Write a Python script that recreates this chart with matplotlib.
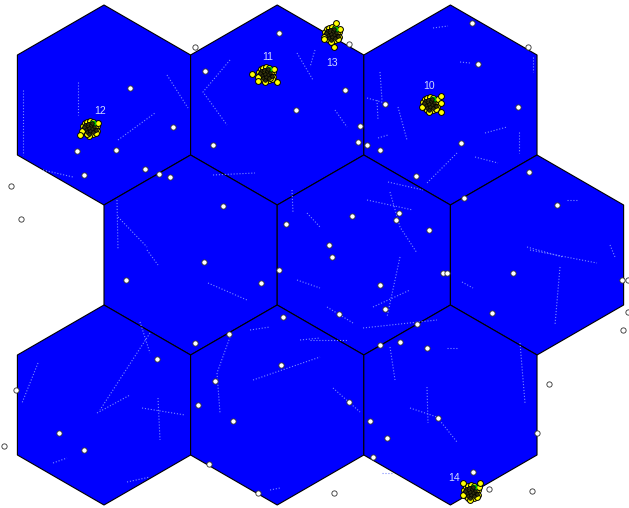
import numpy as np
import matplotlib
matplotlib.use("Agg")
import matplotlib.pyplot as plt
from matplotlib.patches import RegularPolygon

# 小区布局 (3 行 x 3 列, 尖顶六边形)
R = 100.0
hex_rows = [0, 0, 0, 1, 1, 1, 2, 2, 2]
hex_cols = [0, 1, 2, 0, 1, 2, 0, 1, 2]
origin_x, origin_y = 104.0, 105.0

# 普通用户位置 (白点)
user_x = [279, 195, 205, 130, 296, 173, 213, 77, 116, 145, 159, 170, 84, 11, 21, 223, 286,
          349, 472, 528, 478, 345, 385, 518, 360, 358, 367, 380, 461, 416, 529, 464, 557,
          352, 399, 396, 429, 329, 332,
          204, 126, 279, 261, 283, 229, 195, 157, 281, 215, 16, 198, 233, 59, 84, 4, 209, 258,
          443, 447, 513, 622, 628, 380, 385, 339, 492, 417, 628, 623, 380, 400, 427, 549,
          349, 370, 438, 387, 537, 373, 473, 334, 489, 532]
user_y = [33, 47, 71, 88, 110, 127, 145, 151, 150, 169, 174, 177, 175, 186, 219, 206, 224,
          44, 23, 47, 64, 90, 104, 107, 126, 142, 145, 150, 143, 176, 172, 198, 205,
          216, 213, 220, 230, 245, 257,
          262, 280, 270, 283, 317, 334, 343, 359, 365, 381, 390, 405, 421, 433, 450, 446, 464, 493,
          273, 273, 273, 280, 280, 285, 309, 314, 313, 324, 312, 330, 345, 342, 348, 384,
          402, 421, 418, 438, 433, 457, 472, 493, 489, 491]

# 用户移动轨迹 (白色虚线)
tracks = [
    [(78, 82), (78, 115)], [(23, 90), (23, 155)], [(167, 75), (188, 108)],
    [(118, 140), (155, 113)], [(43, 170), (73, 177)], [(230, 60), (203, 92), (227, 125)],
    [(213, 175), (255, 173)], [(117, 200), (118, 250)], [(118, 217), (147, 247)],
    [(297, 53), (313, 80)], [(292, 190), (293, 213)], [(307, 213), (320, 227)],
    [(433, 28), (448, 26)], [(460, 62), (470, 63)], [(533, 57), (533, 72)],
    [(380, 72), (382, 100)], [(367, 98), (385, 103)], [(377, 100), (378, 120)],
    [(398, 107), (407, 140)], [(378, 138), (388, 135)], [(335, 110), (347, 127)],
    [(315, 50), (310, 67)], [(485, 133), (507, 127)], [(519, 132), (519, 153)],
    [(475, 157), (498, 163)], [(457, 153), (427, 183)], [(388, 182), (423, 190)],
    [(367, 200), (413, 210)], [(390, 192), (400, 227), (417, 253)], [(527, 247), (563, 257)],
    [(567, 200), (577, 200)], [(610, 245), (615, 257)],
    [(147, 250), (158, 265)], [(208, 283), (247, 300)], [(140, 322), (150, 353)],
    [(150, 333), (100, 410)], [(97, 413), (130, 395)], [(142, 408), (185, 415)],
    [(158, 398), (160, 440)], [(38, 363), (22, 403)], [(53, 463), (67, 458)],
    [(127, 482), (150, 477)], [(250, 330), (270, 327)], [(230, 337), (217, 373), (220, 413)],
    [(253, 380), (320, 357)], [(300, 340), (320, 338)], [(270, 490), (280, 488)],
    [(297, 280), (320, 288)],
    [(400, 257), (387, 317)], [(327, 307), (353, 323)], [(363, 328), (437, 320)],
    [(373, 307), (410, 290)], [(310, 340), (347, 340)], [(333, 388), (360, 412)],
    [(390, 347), (395, 380)], [(427, 387), (428, 423)], [(410, 408), (437, 417), (457, 442)],
    [(447, 348), (458, 348)], [(520, 343), (525, 403)], [(462, 282), (473, 288)],
    [(560, 267), (555, 325)], [(530, 250), (597, 263)], [(382, 473), (393, 473)],
]

# 热点簇 (黄色用户群)
cluster_ids = [10, 11, 12, 13, 14]
cluster_x = [430, 266, 90, 332, 471]
cluster_y = [104, 74, 128, 34, 492]
label_x = [429, 268, 100, 332, 454]
label_y = [86, 57, 111, 63, 478]
core_dx = [-7, -5, -3, 0, 3, 5, 7, -6, -4, -1, 2, 5, 7, -5, -2, 1, 4, -3, 0, 3, 6, -1, -8, 8]
core_dy = [-2, -5, -6, -7, -6, -4, -2, 1, -2, -3, -2, 0, 3, 4, 2, 1, 3, 6, 5, 6, 5, 8, 3, -5]
dark_dx = [-5, -2, 1, 4, -4, -1, 2, 5, -3, 0, 3, -1, 2, -6, 6]
dark_dy = [-3, -4, -3, -1, 1, 0, 1, 2, 4, 3, 4, 6, -5, -1, 2]
outlier_x = [[441, 441, 441], [252, 258, 277, 270], [80, 87], [336, 334, 324], [463, 480]]
outlier_y = [[96, 103, 112], [74, 81, 82, 78], [135, 134], [23, 47, 39], [483, 483]]

fig = plt.figure(figsize=(6.29, 5.08), dpi=100)
ax = fig.add_axes([0, 0, 1, 1])

for r, c in zip(hex_rows, hex_cols):
    cx = origin_x + np.sqrt(3) * R * (c + 0.5 * (r % 2))
    cy = origin_y + 1.5 * R * r
    ax.add_patch(RegularPolygon((cx, cy), numVertices=6, radius=R, orientation=0,
                                facecolor='#0000ff', edgecolor='black', linewidth=0.8, zorder=1))

for tr in tracks:
    xs, ys = zip(*tr)
    ax.plot(xs, ys, linestyle=':', color='#7d8cff', linewidth=0.8, zorder=2)

ax.plot(user_x, user_y, 'o', mfc='white', mec='#303030', ms=3.8, mew=0.6, zorder=3)

for i, cid in enumerate(cluster_ids):
    px = [cluster_x[i] + d for d in core_dx] + outlier_x[i]
    py = [cluster_y[i] + d for d in core_dy] + outlier_y[i]
    ax.plot(px, py, 'o', mfc='#ffff00', mec='black', ms=4.2, mew=0.7, zorder=4)
    ax.plot(cluster_x[i] + 3, cluster_y[i] - 5, 's', mfc='#00c000', mec='#00c000', ms=3, zorder=5)
    ax.plot([cluster_x[i] + d for d in dark_dx], [cluster_y[i] + d for d in dark_dy],
            'o', mfc='#303010', mec='black', ms=2.6, mew=0.5, zorder=6)
    ax.text(label_x[i], label_y[i], str(cid), color='#d0dcff', fontsize=7.5,
            family='Liberation Sans', ha='center', va='center', zorder=7)

ax.set_xlim(0, 629)
ax.set_ylim(508, 0)
ax.set_aspect('equal')
ax.axis('off')

fig.savefig('out.png', dpi=100, facecolor='white')
